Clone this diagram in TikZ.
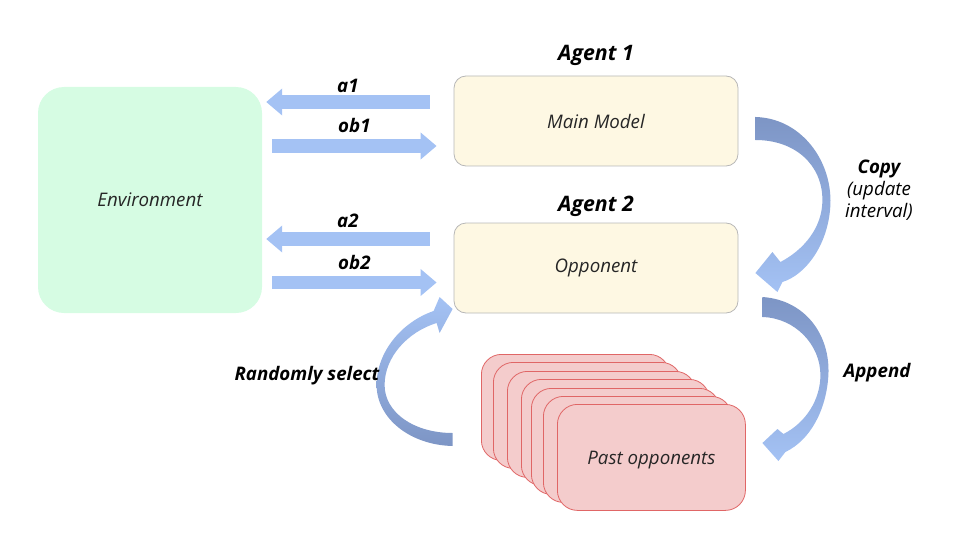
\documentclass[tikz,border=0pt]{standalone}
\usepackage{fontspec}
\setmainfont{Open Sans}
\usetikzlibrary{positioning,calc,arrows.meta}

\definecolor{envfill}{HTML}{D6FCE3}
\definecolor{agentfill}{HTML}{FEF8E3}
\definecolor{agentline}{HTML}{B7B7B7}
\definecolor{pastfill}{HTML}{F4CCCC}
\definecolor{pastline}{HTML}{E06666}
\definecolor{flowlight}{HTML}{A4C2F4}
\definecolor{flowdark}{HTML}{7D95C5}

\begin{document}
\begin{tikzpicture}[x=1pt,y=-1pt,>=Stealth,line join=round,
  boxtext/.style={font=\fontsize{18.7}{22}\selectfont\itshape,text=black!85},
  envbox/.style={boxtext,fill=envfill,rounded corners=26pt,minimum width=224pt,minimum height=226pt},
  agentbox/.style={boxtext,draw=agentline,line width=0.8pt,fill=agentfill,rounded corners=12pt,minimum width=284pt,minimum height=90pt},
  pastbox/.style={boxtext,draw=pastline,line width=0.8pt,fill=pastfill,rounded corners=20pt,minimum width=188pt,minimum height=106pt},
  agentlabel/.style={font=\fontsize{21.3}{24}\selectfont\bfseries\itshape},
  flowlabel/.style={font=\fontsize{18.7}{22}\selectfont\bfseries\itshape},
  flowarrow/.style={-{Triangle[length=16pt,width=26pt]},line width=13.5pt,draw=flowlight},
  curvearrow/.style={draw=none,shade}]

  \useasboundingbox (0,0) rectangle (960,540);

  % boxes
  \node[envbox] (env) at (150,200) {Environment};
  \node[agentbox] (main) at (596,121) {Main Model};
  \node[agentbox] (opp) at (596,268) {Opponent};

  % stack of past opponents
  \foreach \i/\px/\py in {1/481/354,2/493/362,3/507/371,4/521/379,5/531/388,6/543/396}{
    \node[pastbox,anchor=north west] (past\i) at (\px,\py) {};
  }
  \node[pastbox,anchor=north west,text depth=-2pt] (past7) at (557,404) {Past opponents};

  % agent labels
  \node[agentlabel] at (596,55) {Agent 1};
  \node[agentlabel] at (596,206) {Agent 2};

  % actions and observations
  \draw[flowarrow] ([shift={(-24,-19)}]main.west) -- ([shift={(4,-98)}]env.east)
    node[midway,yshift=16.5pt,flowlabel,text=black] {a1};
  \draw[flowarrow] ([shift={(10,-54)}]env.east) -- ([shift={(-17,25)}]main.west)
    node[midway,yshift=20.5pt,flowlabel,text=black] {ob1};
  \draw[flowarrow] ([shift={(-24,-29)}]opp.west) -- ([shift={(4,39)}]env.east)
    node[midway,yshift=18pt,flowlabel,text=black] {a2};
  \draw[flowarrow] ([shift={(10,82.5)}]env.east) -- ([shift={(-17,14.5)}]opp.west)
    node[midway,yshift=20pt,flowlabel,text=black] {ob2};

  % copy: main model -> opponent
  \begin{scope}[shift={(main.east)}]
    \path[curvearrow,top color=flowdark,bottom color=flowlight]
      (17,-4) .. controls (62,-3) and (94,39) .. (92,84)
      .. controls (90,124) and (67,154) .. (44,161)
      -- (39,171) -- (17,152) -- (34,131) -- (42,141)
      .. controls (65,129) and (84,107) .. (84,79)
      .. controls (84,44) and (57,19) .. (17,19) -- cycle;
  \end{scope}
  \node[flowlabel,align=center] at (879,190) {Copy\\{\mdseries(update}\\{\mdseries interval)}};

  % append: opponent -> past opponents
  \begin{scope}[shift={(opp.east)}]
    \path[curvearrow,top color=flowdark,bottom color=flowlight]
      (24,29) .. controls (67,32) and (92,67) .. (90,107)
      .. controls (88,142) and (72,172) .. (47,184)
      -- (40,193) -- (24,175) -- (39,161) -- (45,166)
      .. controls (67,155) and (82,132) .. (82,107)
      .. controls (82,77) and (57,50) .. (24,49) -- cycle;
  \end{scope}
  \node[flowlabel] at (877,373) {Append};

  % randomly select: past opponents -> opponent
  \begin{scope}[shift={(opp.west)}]
    \path[curvearrow,top color=flowlight,bottom color=flowdark]
      (-1,178) .. controls (-44,177) and (-77,150) .. (-77,117)
      .. controls (-77,84) and (-52,54) .. (-20,43)
      -- (-14,29) -- (-1,41) -- (-14,65) -- (-17,55)
      .. controls (-46,64) and (-69,89) .. (-69,117)
      .. controls (-69,145) and (-39,165) .. (-1,165) -- cycle;
  \end{scope}
  \node[flowlabel] at (307,376) {Randomly select};
\end{tikzpicture}
\end{document}
